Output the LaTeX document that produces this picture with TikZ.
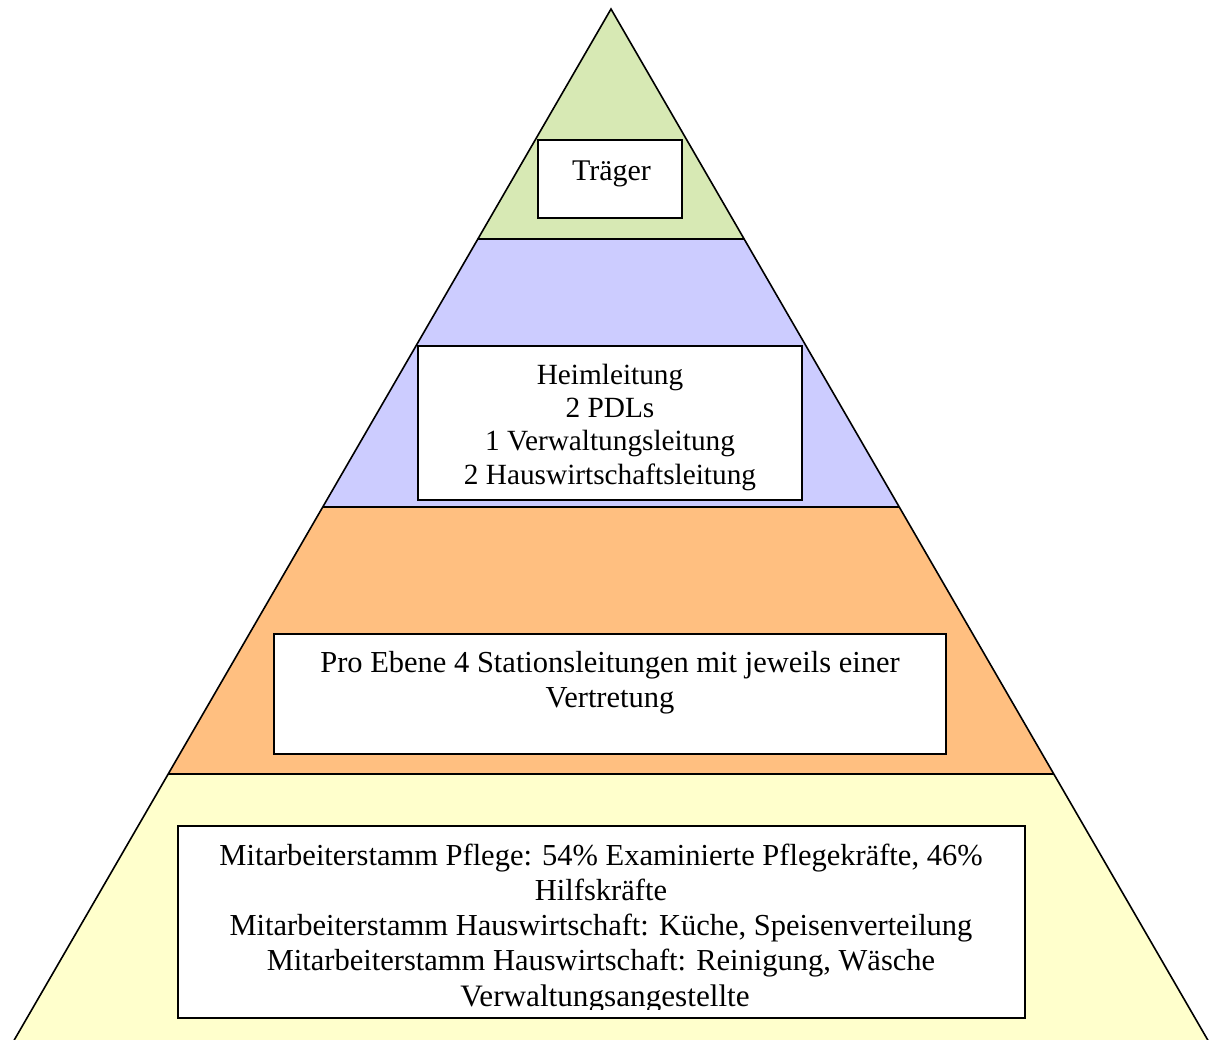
\documentclass[tikz,border=0pt]{standalone}
\usepackage{fontspec}
\setmainfont{Liberation Serif}
\definecolor{tiergreen}{RGB}{215,233,180}
\definecolor{tierblue}{RGB}{204,204,255}
\definecolor{tierorange}{RGB}{255,191,128}
\definecolor{tieryellow}{RGB}{255,255,204}
\begin{document}
\begin{tikzpicture}[x=1pt,y=-1pt,
  edge/.style={draw=black,line width=1.6pt,line join=miter,line cap=butt},
  tierbox/.style={rectangle,draw=black,fill=white,line width=1.8pt,inner sep=0pt,outer sep=0pt},
  boxedge/.style={draw=black,line width=1.8pt},
  txt/.style={anchor=base,inner sep=0pt,outer sep=0pt,font=\fontsize{30.5}{35}\selectfont},
  smalltxt/.style={txt,font=\fontsize{29.3}{33.5}\selectfont}]
\useasboundingbox (0,0) rectangle (1210,1039);

% pyramid corners
\coordinate (apex) at (611,9);
\coordinate (l1) at (477.8,239);  \coordinate (r1) at (744.2,239);
\coordinate (l2) at (322.7,507);  \coordinate (r2) at (899.3,507);
\coordinate (l3) at (168,774);    \coordinate (r3) at (1054,774);
\coordinate (l4) at (12.5,1043);  \coordinate (r4) at (1209.5,1043);

% tiers
\fill[tiergreen]  (apex) -- (r1) -- (l1) -- cycle;
\fill[tierblue]   (l1) -- (r1) -- (r2) -- (l2) -- cycle;
\fill[tierorange] (l2) -- (r2) -- (r3) -- (l3) -- cycle;
\fill[tieryellow] (l3) -- (r3) -- (r4) -- (l4) -- cycle;
\draw[edge] (l4) -- (apex) -- (r4);
\draw[edge] (l1) -- (r1);
\draw[edge] (l2) -- (r2);
\draw[edge] (l3) -- (r3);

% boxes
\node[tierbox,minimum width=144pt,minimum height=78pt]  (traeger) at (610,179) {};
\node[tierbox,minimum width=384pt,minimum height=154pt] (leitung) at (610,423) {};
\node[tierbox,minimum width=672pt,minimum height=120pt] (station) at (610,694) {};
\node[tierbox,minimum width=847pt,minimum height=192pt] (stamm)   at (601.5,922) {};

% labels
\node[txt,font=\fontsize{30}{35}\selectfont] (traegerA) at (611.5,180) {Träger};

\node[smalltxt] (leitungA) at (610,384)   {Heimleitung};
\node[smalltxt] (leitungB) at (610,417.4) {2 PDLs};
\node[smalltxt] (leitungC) at (610,450.8) {1 Verwaltungsleitung};
\node[smalltxt] (leitungD) at (610,484.2) {2 Hauswirtschaftsleitung};

\node[txt] (stationA) at (610,672.7) {Pro Ebene 4 Stationsleitungen mit jeweils einer};
\node[txt] (stationB) at (610,707.7) {Vertretung};

% the text area of the lowest box ends above its bottom border
\coordinate (stammclip) at (1025,1009);
\begin{scope}
  \clip (stamm.north west) rectangle (stammclip);
  \node[txt] (stammA) at (601,865)   {Mitarbeiterstamm Pflege: 54\% Examinierte Pflegekräfte, 46\%};
  \node[txt] (stammB) at (601,900)   {Hilfskräfte};
  \node[txt] (stammC) at (601,935.5) {Mitarbeiterstamm Hauswirtschaft: Küche, Speisenverteilung};
  \node[txt] (stammD) at (601,970.8) {Mitarbeiterstamm Hauswirtschaft: Reinigung, Wäsche};
  \node[txt,font=\fontsize{31.2}{35}\selectfont] (stammE) at (605,1006.5) {Verwaltungsangestellte};
\end{scope}
\draw[boxedge] (stamm.north west) rectangle (stamm.south east);
\end{tikzpicture}
\end{document}
